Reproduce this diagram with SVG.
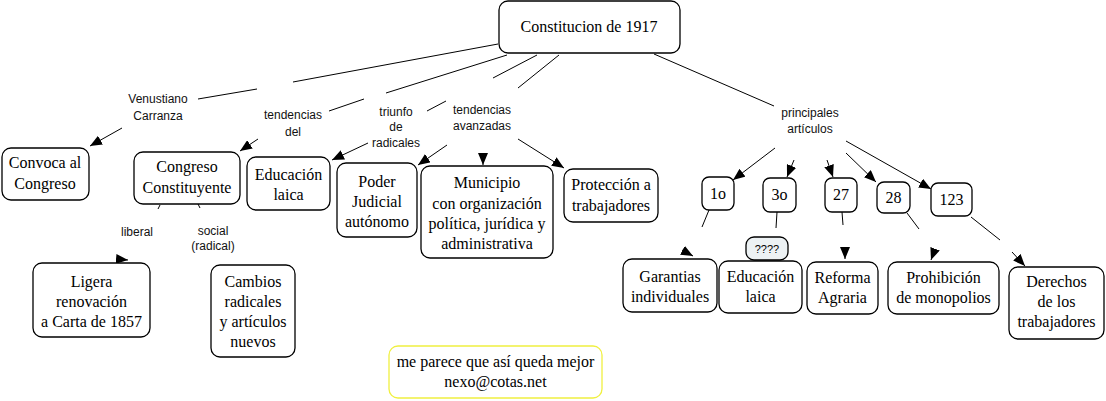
<svg xmlns="http://www.w3.org/2000/svg" width="1106" height="401" viewBox="0 0 1106 401">
<style>
.n rect{fill:#fff;stroke:#000;stroke-width:1.3}
.n text{font-family:"Liberation Serif","Times New Roman",serif;font-size:16px;fill:#000;text-anchor:middle}
.lb{font-family:"Liberation Sans",Arial,sans-serif;font-size:12px;fill:#111;text-anchor:middle}
#conn path{fill:none;stroke:#000;stroke-width:1}
#conn path.a{marker-end:url(#ah)}
</style>
<defs>
<marker id="ah" markerUnits="userSpaceOnUse" markerWidth="12" markerHeight="10" refX="12" refY="5" orient="auto" viewBox="0 0 12 10">
<path d="M0,0 L12,5 L0,10 z" fill="#000"/>
</marker>
</defs>
<rect width="1106" height="401" fill="#fff"/>
<g id="conn">
<path d="M498,44 L293,82"/>
<path d="M257,89 L198,99"/>
<path d="M507,55 L386,93"/>
<path d="M364,99 L329,111"/>
<path d="M537,55 L493,78"/>
<path d="M446,101 L427,111"/>
<path d="M559,55 L518,88"/>
<path d="M654,54 L774,106"/>
<path d="M160,205 L158,209"/>
<path d="M198,204 L200,208"/>
<path d="M709,210 L702,227"/>
<path d="M777,212 L776,228"/>
<path d="M842,212 L843,225"/>
<path d="M907,213 L919,229"/>
<path d="M971,217 L1000,240"/>
<path class="a" d="M122,128 L90,146"/>
<path class="a" d="M258,139 L240,151"/>
<path class="a" d="M368,143 L332,160"/>
<path class="a" d="M447,145 L418,165"/>
<path class="a" d="M483,153 L483,165"/>
<path class="a" d="M518,139 L564,168"/>
<path class="a" d="M775,148 L733,180"/>
<path class="a" d="M794,160 L787,177"/>
<path class="a" d="M827,160 L833,177"/>
<path class="a" d="M846,153 L876,182"/>
<path class="a" d="M846,141 L931,189"/>
<path class="a" d="M682,250 L693,256"/>
<path class="a" d="M845,247 L845,259"/>
<path class="a" d="M935,249 L931,260"/>
<path class="a" d="M1012,252 L1025,266"/>
<path class="a" d="M116,259 L128,260"/>
</g>
<g id="labels">
<text class="lb" x="158" y="103">Venustiano</text>
<text class="lb" x="158" y="120">Carranza</text>
<text class="lb" x="293" y="119">tendencias</text>
<text class="lb" x="293" y="136">del</text>
<text class="lb" x="396" y="116">triunfo</text>
<text class="lb" x="396" y="131">de</text>
<text class="lb" x="396" y="147">radicales</text>
<text class="lb" x="482" y="114">tendencias</text>
<text class="lb" x="482" y="130">avanzadas</text>
<text class="lb" x="810" y="117">principales</text>
<text class="lb" x="810" y="133">artículos</text>
<text class="lb" x="137" y="236">liberal</text>
<text class="lb" x="213" y="235">social</text>
<text class="lb" x="213" y="250">(radical)</text>
</g>
<g id="n1" class="n"><rect x="499" y="1" width="181" height="52" rx="9"/><text x="589" y="32">Constitucion de 1917</text></g>
<g id="n2" class="n"><rect x="2" y="148" width="87" height="52" rx="9"/><text x="45" y="168">Convoca al</text><text x="45" y="189">Congreso</text></g>
<g id="n3" class="n"><rect x="134" y="152" width="106" height="52" rx="9"/><text x="187" y="172">Congreso</text><text x="187" y="193">Constituyente</text></g>
<g id="n4" class="n"><rect x="247" y="157" width="83" height="53" rx="9"/><text x="288.5" y="180">Educación</text><text x="288.5" y="200">laica</text></g>
<g id="n5" class="n"><rect x="337" y="163" width="80" height="74" rx="9"/><text x="377" y="187">Poder</text><text x="377" y="207">Judicial</text><text x="377" y="227">autónomo</text></g>
<g id="n6" class="n"><rect x="421" y="166" width="132" height="92" rx="9"/><text x="487" y="188">Municipio</text><text x="487" y="209">con organización</text><text x="487" y="229">política, jurídica y</text><text x="487" y="249">administrativa</text></g>
<g id="n7" class="n"><rect x="564" y="169" width="94" height="53" rx="9"/><text x="611" y="190">Protección a</text><text x="611" y="211">trabajadores</text></g>
<g id="n8" class="n"><rect x="33" y="263" width="117" height="74" rx="9"/><text x="91.5" y="287">Ligera</text><text x="91.5" y="307">renovación</text><text x="91.5" y="327">a Carta de 1857</text></g>
<g id="n9" class="n"><rect x="211" y="265" width="84" height="92" rx="9"/><text x="253" y="287">Cambios</text><text x="253" y="307">radicales</text><text x="253" y="327">y artículos</text><text x="253" y="347">nuevos</text></g>
<g id="n10" class="n"><rect x="702" y="177" width="32" height="33" rx="7"/><text x="718" y="199">1o</text></g>
<g id="n11" class="n"><rect x="763" y="178" width="33" height="34" rx="7"/><text x="779.5" y="200">3o</text></g>
<g id="n12" class="n"><rect x="825" y="178" width="32" height="34" rx="7"/><text x="841" y="200">27</text></g>
<g id="n13" class="n"><rect x="877" y="182" width="33" height="31" rx="7"/><text x="893.5" y="203">28</text></g>
<g id="n14" class="n"><rect x="931" y="183" width="41" height="33" rx="7"/><text x="951.5" y="205">123</text></g>
<g id="n15" class="n"><rect x="746" y="237" width="42" height="23" rx="8" style="fill:#edf2f4"/><text x="767" y="253" style="font-family:'Liberation Sans',Arial,sans-serif;font-size:11px">????</text></g>
<g id="n16" class="n"><rect x="623" y="259" width="94" height="53" rx="9"/><text x="670" y="282">Garantias</text><text x="670" y="302">individuales</text></g>
<g id="n17" class="n"><rect x="719" y="261" width="83" height="52" rx="9"/><text x="760.5" y="282">Educación</text><text x="760.5" y="302">laica</text></g>
<g id="n18" class="n"><rect x="807" y="262" width="71" height="52" rx="9"/><text x="842.5" y="283">Reforma</text><text x="842.5" y="303">Agraria</text></g>
<g id="n19" class="n"><rect x="888" y="262" width="111" height="52" rx="9"/><text x="943.5" y="283">Prohibición</text><text x="943.5" y="303">de monopolios</text></g>
<g id="n20" class="n"><rect x="1009" y="267" width="95" height="72" rx="9"/><text x="1056.5" y="287">Derechos</text><text x="1056.5" y="307">de los</text><text x="1056.5" y="327">trabajadores</text></g>
<g id="n21" class="n"><rect x="389" y="346" width="213" height="52" rx="9" style="stroke:#f0f040"/><text x="495.5" y="367">me parece que así queda mejor</text><text x="495.5" y="387">nexo@cotas.net</text></g>
</svg>
